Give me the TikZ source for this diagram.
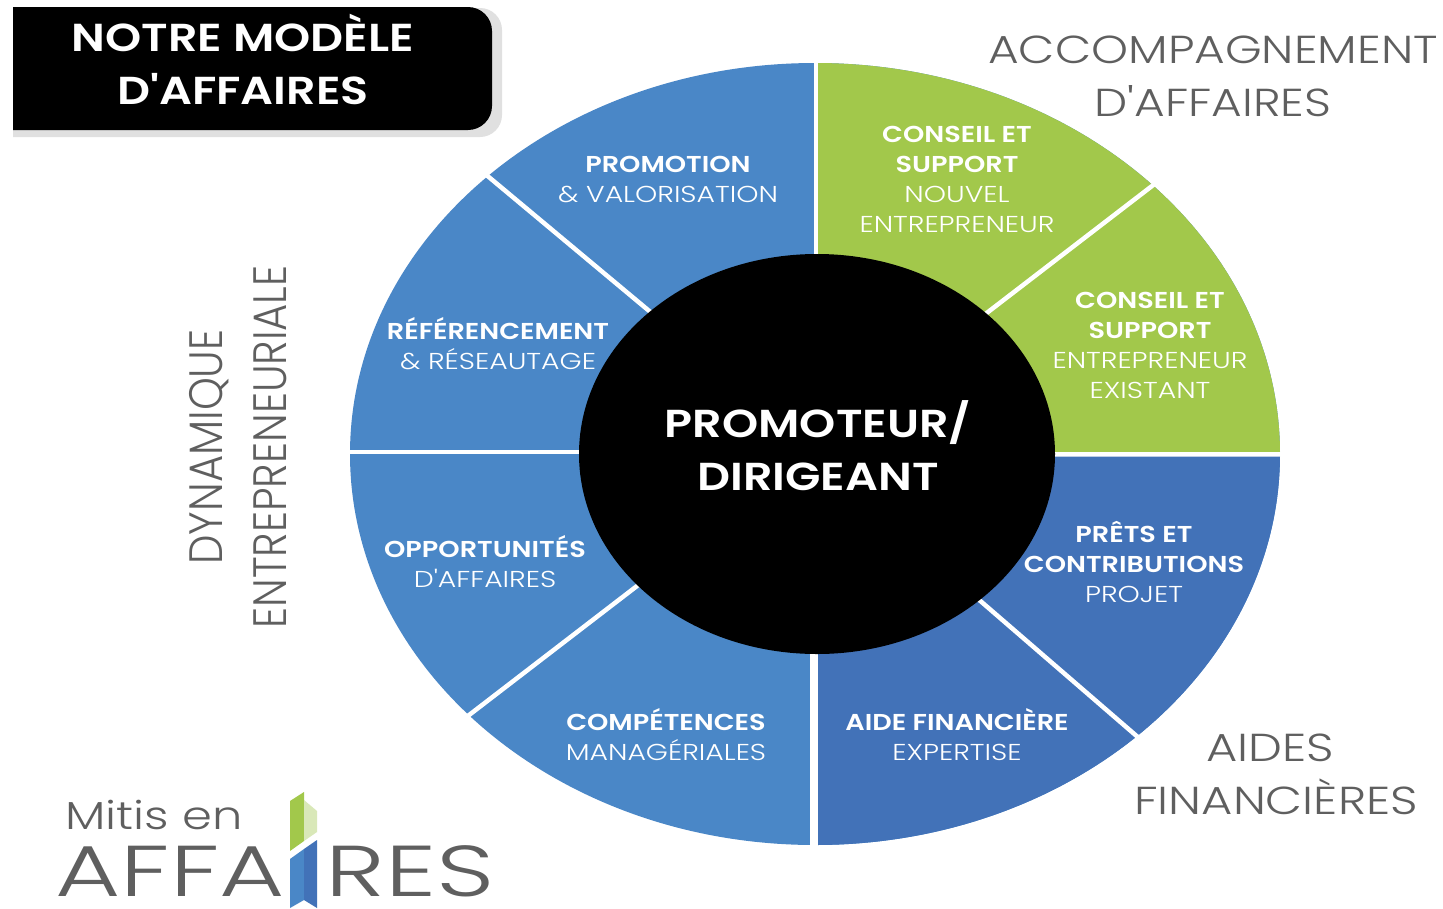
\documentclass[tikz,border=0pt]{standalone}
\usepackage{fontspec}
\setmainfont{Poppins Light}[BoldFont=Poppins SemiBold,Ligatures=TeXOff,UprightFeatures={FakeStretch=1.23},BoldFeatures={FakeStretch=1.18}]
\definecolor{blA}{HTML}{4A87C7}
\definecolor{blB}{HTML}{4272B8}
\definecolor{grA}{HTML}{A2C84B}
\definecolor{grL}{HTML}{D9E8B8}
\definecolor{gry}{HTML}{5F5F5F}
\tikzset{
 seclabel/.style={align=center,text=white,font=\fontsize{23}{30}\selectfont},
 biglabel/.style={align=center,text=gry,font=\fontsize{39}{53}\selectfont},
 title/.style={align=center,text=white,font=\bfseries\fontsize{39}{53}\selectfont},
 logotext/.style={text=gry,transform shape,anchor=base,inner sep=0pt,font=\fontsize{72}{72}\selectfont},
 sep/.style={draw=white,line width=4.5pt}
}
\newcommand{\bb}[1]{{\bfseries #1}}
\begin{document}
\begin{tikzpicture}[x=1pt,y=-1pt]
\useasboundingbox (0,0) rectangle (1443,908);
\fill[white] (0,0) rectangle (1443,908);
% title box
\fill[black!12] (13,14) -- (13,137) -- (480,137) arc[start angle=90,end angle=0,radius=22] -- (502,30) arc[start angle=0,end angle=-90,radius=22] -- cycle;
\fill[black] (13,7) -- (13,130) -- (468,130) arc[start angle=90,end angle=0,radius=24] -- (492,31) arc[start angle=0,end angle=-90,radius=24] -- cycle;
\node[title] (ttl) at (243,59) {NOTRE MODÈLE\\D'AFFAIRES};
% wheel
\def\cx{815} \def\cy{454} \def\rx{465} \def\ry{391}
\fill[blA] (\cx,\cy) ellipse[x radius=\rx,y radius=\ry];
\begin{scope}
\clip (\cx,\cy) rectangle (1290,50);
\fill[grA] (\cx,\cy) ellipse[x radius=\rx,y radius=\ry];
\end{scope}
\begin{scope}
\clip (\cx,\cy) rectangle (1290,860);
\fill[blB] (\cx,\cy) ellipse[x radius=\rx,y radius=\ry];
\end{scope}
\draw[sep] (816,40)--(816,454);
\draw[sep,line width=8pt] (814,454)--(814,870);
\draw[sep,line width=3.5pt] (340,452)--(815,452);
\draw[sep] (815,454)--(1290,454.5);
\draw[sep] (478,168)--(660,320);
\draw[sep] (1165,176)--(975,322);
\draw[sep] (460,722)--(650,576);
\draw[sep] (1147,745)--(970,592);
% hub
\fill[black] (817,454) ellipse[x radius=238,y radius=200];
\node[title] (hub) at (818,446) {PROMOTEUR/\\DIRIGEANT};
% labels
\node[seclabel] (a) at (668,179) {\bb{PROMOTION}\\\& VALORISATION};
\node[seclabel] (b) at (498,344) {\bb{RÉFÉRENCEMENT}\\\& RÉSEAUTAGE};
\node[seclabel] (c) at (485,562) {\bb{OPPORTUNITÉS}\\D'AFFAIRES};
\node[seclabel] (d) at (666,735) {\bb{COMPÉTENCES}\\MANAGÉRIALES};
\node[seclabel] (e) at (957,735) {\bb{AIDE FINANCIÈRE}\\EXPERTISE};
\node[seclabel] (f) at (1134,562) {\bb{PRÊTS ET}\\\bb{CONTRIBUTIONS}\\PROJET};
\node[seclabel] (g) at (1150,345) {\bb{CONSEIL ET}\\\bb{SUPPORT}\\ENTREPRENEUR\\EXISTANT};
\node[seclabel] (h) at (957,179) {\bb{CONSEIL ET}\\\bb{SUPPORT}\\NOUVEL\\ENTREPRENEUR};
% outer
\node[biglabel,transform shape,xscale=.98] (acc) at (1213,76) {ACCOMPAGNEMENT\\D'AFFAIRES};
\node[biglabel] (aid) at (1276,774) {AIDES\hspace*{12pt}\\FINANCIÈRES};
\node[biglabel,transform shape,rotate=90,xscale=.87,yscale=1.2] (dyn) at (238,447) {DYNAMIQUE\\ENTREPRENEURIALE};
% logo
\node[text=gry,font=\fontsize{39}{44}\selectfont] (mit) at (154,815) {Mitis en};
\node[logotext,xscale=1.13] (af1) at (170,896) {AFFA};
\node[logotext,xscale=1.15] (af2) at (410,896) {RES};
\fill[grA] (290,801)--(304,792)--(304,841)--(290,851)--cycle;
\fill[grL] (304,800)--(317,811)--(317,832)--(304,841)--cycle;
\fill[blA] (290,859)--(304,849)--(304,900)--(290,908)--cycle;
\fill[blB] (304,849)--(317,840)--(317,908)--(304,900)--cycle;
\end{tikzpicture}
\end{document}
